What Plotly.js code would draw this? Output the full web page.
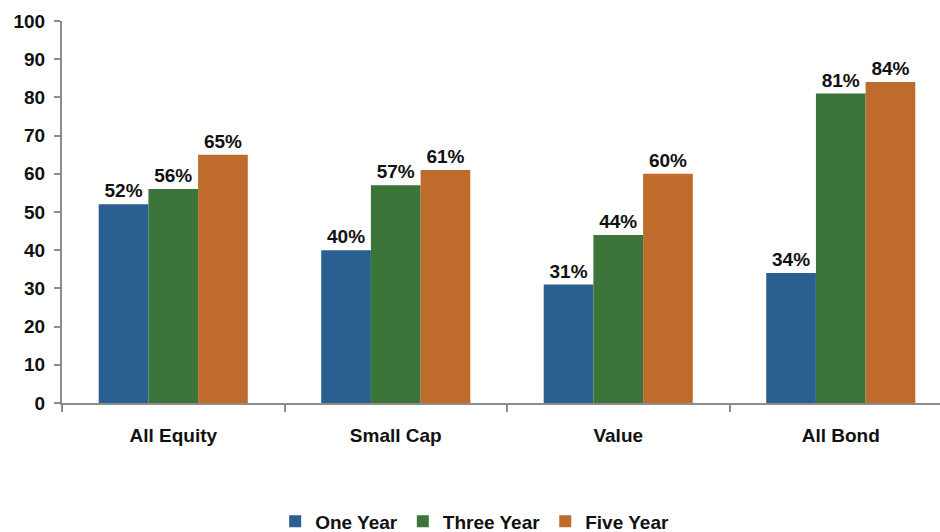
<!DOCTYPE html>
<html><head><meta charset="utf-8">
<script src="https://cdn.plot.ly/plotly-3.0.1.min.js"></script>
<style>html,body{margin:0;padding:0;background:#fff;}#chart{width:940px;height:532px;}</style>
</head><body><div id="chart"></div>
<script>
const categories = ["All Equity", "Small Cap", "Value", "All Bond"];
const oneYear = [52, 40, 31, 34];
const threeYear = [56, 57, 44, 81];
const fiveYear = [65, 61, 60, 84];
const seriesNames = ["One Year", "Three Year", "Five Year"];
const colors = ["#2a5f8f", "#3b7539", "#be6b2b"];
const yTicks = [0,10,20,30,40,50,60,70,80,90,100];

const series = [oneYear, threeYear, fiveYear];
const traces = series.map((vals, i) => ({
  type: "bar",
  name: seriesNames[i],
  x: categories,
  y: vals,
  marker: {color: colors[i], line: {width: 0}},
  text: vals.map(v => v + "%"),
  textposition: "outside",
  cliponaxis: false,
  textfont: {family: "Liberation Sans, Arial, sans-serif", size: 19, color: "#111", weight: "bold"},
  hoverinfo: "none"
}));

const layout = {
  width: 940, height: 532,
  margin: {l: 62, r: 0, t: 21, b: 129, autoexpand: false},
  paper_bgcolor: "#fff", plot_bgcolor: "#fff",
  barmode: "group",
  bargap: 0.33, bargroupgap: 0,
  showlegend: true,
  legend: {orientation: "h", x: 0.47, xanchor: "center", y: -0.31, yanchor: "middle",
    font: {family: "Liberation Sans, Arial, sans-serif", size: 19, color: "#111", weight: "bold"},
    itemwidth: 30, traceorder: "normal"},
  xaxis: {
    range: [-0.5, 3.446], type: "category",
    showline: true, linecolor: "#8c8c8c", linewidth: 2,
    ticks: "outside", tickson: "boundaries", ticklen: 7, tickwidth: 2, tickcolor: "#8c8c8c",
    showgrid: false, zeroline: false,
    tickfont: {family: "Liberation Sans, Arial, sans-serif", size: 19, color: "#111", weight: "bold"},
    ticklabelstandoff: 14
  },
  yaxis: {
    range: [0, 100], tickvals: yTicks, ticktext: yTicks.map(String),
    showline: true, linecolor: "#8c8c8c", linewidth: 2,
    ticks: "outside", ticklen: 6, tickwidth: 2, tickcolor: "#8c8c8c",
    showgrid: false, zeroline: false,
    tickfont: {family: "Liberation Sans, Arial, sans-serif", size: 19, color: "#111", weight: "bold"},
    ticklabelstandoff: 5
  }
};
Plotly.newPlot("chart", traces, layout, {staticPlot: true});
</script></body></html>
